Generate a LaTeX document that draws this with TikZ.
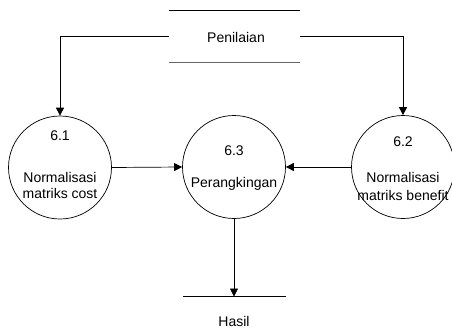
\documentclass[tikz,border=0pt]{standalone}
\usepackage{fontspec}
\setmainfont{Liberation Sans}
\usetikzlibrary{arrows.meta}
\begin{document}
\begin{tikzpicture}[x=1pt,y=-1pt,
  proc/.style={circle,draw,line width=0.7pt,minimum size=103pt,inner sep=0pt},
  lbl/.style={font=\fontsize{14}{16}\selectfont,inner sep=0pt,anchor=center},
  flow/.style={line width=0.7pt,-{Triangle[length=8pt,width=8pt]}},
  store/.style={line width=0.9pt}]
\useasboundingbox (0,0) rectangle (452,332);
% data store Penilaian
\node[minimum width=131pt,minimum height=51pt,inner sep=0pt] (pen) at (234.5,36.5) {};
\node[lbl] (pent) at (236,37) {Penilaian};
\draw[store] (pen.north west) -- (pen.north east);
\draw[store,draw=black!60] (pen.south west) -- (pen.south east);
% processes
\node[proc] (c1) at (60,167.5) {};
\node[proc] (c3) at (234,167) {};
\node[proc] (c2) at (403,167) {};
\node[lbl] (t1a) at (60,136) {6.1};
\node[lbl] (t1b) at (60,177) {Normalisasi};
\node[lbl] (t1c) at (60,193.5) {matriks cost};
\node[lbl] (t3a) at (234,150.5) {6.3};
\node[lbl] (t3b) at (234,184) {Perangkingan};
\node[lbl] (t2a) at (403,142) {6.2};
\node[lbl] (t2b) at (403,177) {Normalisasi};
\node[lbl] (t2c) at (403,195) {matriks benefit};
% Hasil
\coordinate (hl) at (183,296.5);
\coordinate (hr) at (286,296.5);
\draw[store] (hl) -- (hr);
\node[lbl] (hasil) at (234,321) {Hasil};
% flows
\draw[flow] (pen.west) -| (c1.north);
\draw[flow] (pen.east) -| (c2.north);
\draw[flow] (c1.east) -- (c3.west);
\draw[flow] (c2.west) -- (c3.east);
\draw[flow] (c3.south) -- (c3.south |- hl);
\end{tikzpicture}
\end{document}
